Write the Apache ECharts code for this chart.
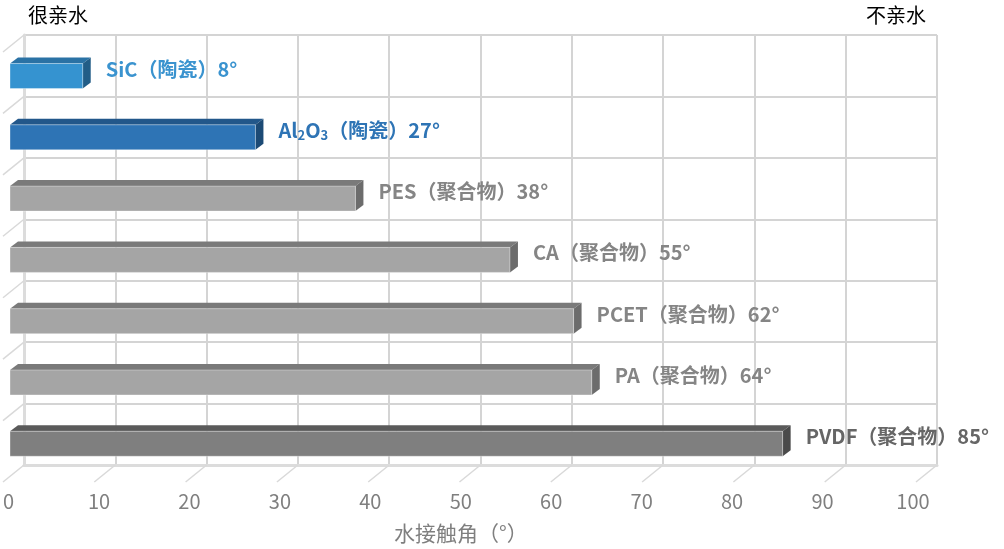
<!DOCTYPE html>
<html>
<head>
<meta charset="UTF-8">
<title>水接触角</title>
<script src="https://cdn.jsdelivr.net/npm/echarts@6/dist/echarts.min.js"></script>
<style>
    html, body { margin: 0; padding: 0; background: #fff; }
    #chart { width: 1004px; height: 549px; }
</style>
</head>
<body>
<div id="chart"></div>
<script type="text/javascript">
    // 数据
    var materials = ['SiC', 'Al2O3', 'PES', 'CA', 'PCET', 'PA', 'PVDF'];
    var labelNames = ['SiC', 'Al{s|2}O{s|3}', 'PES', 'CA', 'PCET', 'PA', 'PVDF'];
    var kinds = ['陶瓷', '陶瓷', '聚合物', '聚合物', '聚合物', '聚合物', '聚合物'];
    var angles = [8, 27, 38, 55, 62, 64, 85];
    var xTicks = [0, 10, 20, 30, 40, 50, 60, 70, 80, 90, 100];
    var rowTicks = [0, 1, 2, 3, 4, 5, 6, 7];

    // 每根柱子的颜色 (正面, 顶面, 侧面, 标签)
    var barStyles = [
        {front: '#3593d0', top: '#2a72a5', side: '#225d87', text: '#3a93cf'},
        {front: '#2e74b5', top: '#22578a', side: '#1c4a75', text: '#2e74b5'},
        {front: '#a5a5a5', top: '#7a7a7a', side: '#6c6c6c', text: '#858585'},
        {front: '#a5a5a5', top: '#7a7a7a', side: '#6c6c6c', text: '#858585'},
        {front: '#a5a5a5', top: '#7a7a7a', side: '#6c6c6c', text: '#858585'},
        {front: '#a5a5a5', top: '#7a7a7a', side: '#6c6c6c', text: '#858585'},
        {front: '#7f7f7f', top: '#5a5a5a', side: '#4a4a4a', text: '#666666'}
    ];

    var FONT = '"Noto Sans CJK SC", "Microsoft YaHei", sans-serif';
    var DEPTH = [8, -6];       // 柱子的厚度偏移
    var WALL = [-21, 17];      // 背景墙到前面的偏移
    var BAR_H = 25;

    var myChart = echarts.init(document.getElementById('chart'));

    function renderBar(params, api) {
        var i = api.value(0);
        var v = api.value(1);
        var st = barStyles[params.dataIndex];
        var p0 = api.coord([0, i]);
        var p1 = api.coord([v, i]);
        var x0 = p0[0], x1 = p1[0];
        var yt = p1[1] - BAR_H / 2, yb = p1[1] + BAR_H / 2;
        var dx = DEPTH[0], dy = DEPTH[1];
        var txt = labelNames[params.dataIndex] + '（' + kinds[params.dataIndex] + '）' + v + '°';
        return {
            type: 'group',
            children: [
                {
                    type: 'polygon',
                    shape: {points: [[x0, yt], [x1, yt], [x1 + dx, yt + dy], [x0 + dx, yt + dy]]},
                    style: {fill: st.top}
                },
                {
                    type: 'polygon',
                    shape: {points: [[x1, yt], [x1 + dx, yt + dy], [x1 + dx, yb + dy], [x1, yb]]},
                    style: {fill: st.side}
                },
                {
                    type: 'rect',
                    shape: {x: x0, y: yt, width: x1 - x0, height: BAR_H},
                    style: {fill: st.front, stroke: 'rgba(255,255,255,0.35)', lineWidth: 1}
                },
                {
                    type: 'text',
                    style: {
                        text: txt,
                        x: x1 + dx + 15,
                        y: p1[1] - 7,
                        verticalAlign: 'middle',
                        fill: st.text,
                        fontSize: 20,
                        fontWeight: 'bold',
                        fontFamily: FONT,
                        rich: {
                            s: {fontSize: 13, fontWeight: 'bold', fontFamily: FONT, fill: st.text,
                                verticalAlign: 'bottom', padding: [9, 0, 0, 0]}
                        }
                    }
                }
            ]
        };
    }

    // 左墙与地面的斜线
    function renderDepthLine(params, api) {
        var p = api.coord([api.value(0), api.value(1)]);
        return {
            type: 'line',
            shape: {x1: p[0], y1: p[1], x2: p[0] + WALL[0], y2: p[1] + WALL[1]},
            style: {stroke: '#d9d9d9', lineWidth: 1.5}
        };
    }

    var depthPoints = rowTicks.map(function (r) { return [0, r]; })
        .concat(xTicks.slice(1).map(function (x) { return [x, 0]; }));

    var option = {
        animation: false,
        title: [
            {text: '很亲水', left: 23, top: 0,
                textStyle: {fontSize: 20, fontWeight: 'normal', color: '#000', fontFamily: FONT}},
            {text: '不亲水', right: 73, top: 0,
                textStyle: {fontSize: 20, fontWeight: 'normal', color: '#000', fontFamily: FONT}}
        ],
        grid: [
            {left: 24, width: 913, top: 35, height: 430},     // 背景墙
            {left: 10, width: 909, top: 45.4, height: 429},   // 柱子
            {left: 5, width: 908, top: 52, height: 431}       // 刻度标签
        ],
        xAxis: [
            {
                gridIndex: 0, type: 'value', min: 0, max: 100, interval: 10, position: 'top',
                axisLine: {show: true, lineStyle: {color: '#dcdcdc', width: 3}},
                axisTick: {show: false}, axisLabel: {show: false},
                splitLine: {lineStyle: {color: '#d4d4d4', width: 2}}
            },
            {gridIndex: 1, type: 'value', min: 0, max: 100, show: false},
            {
                gridIndex: 2, type: 'value', min: 0, max: 100, interval: 10,
                axisLine: {show: false}, axisTick: {show: false}, splitLine: {show: false},
                axisLabel: {color: '#7f7f7f', fontSize: 20, fontFamily: FONT, margin: 14},
                name: '水接触角（°）', nameLocation: 'middle', nameGap: 46,
                nameTextStyle: {color: '#7f7f7f', fontSize: 21, fontFamily: FONT}
            }
        ],
        yAxis: [
            {
                gridIndex: 0, type: 'value', min: 0, max: 7, interval: 1, position: 'right',
                axisLine: {show: true, lineStyle: {color: '#dcdcdc', width: 3}},
                axisTick: {show: false}, axisLabel: {show: false},
                splitLine: {lineStyle: {color: '#d4d4d4', width: 2}}
            },
            {gridIndex: 1, type: 'category', data: materials, inverse: true, show: false},
            {gridIndex: 2, type: 'value', show: false}
        ],
        series: [
            {
                type: 'custom',
                xAxisIndex: 0, yAxisIndex: 0,
                renderItem: renderDepthLine,
                data: depthPoints,
                silent: true
            },
            {
                type: 'custom',
                xAxisIndex: 1, yAxisIndex: 1,
                renderItem: renderBar,
                encode: {x: 1, y: 0},
                data: angles.map(function (v, i) { return [i, v]; })
            }
        ]
    };
    myChart.setOption(option);
</script>
</body>
</html>
